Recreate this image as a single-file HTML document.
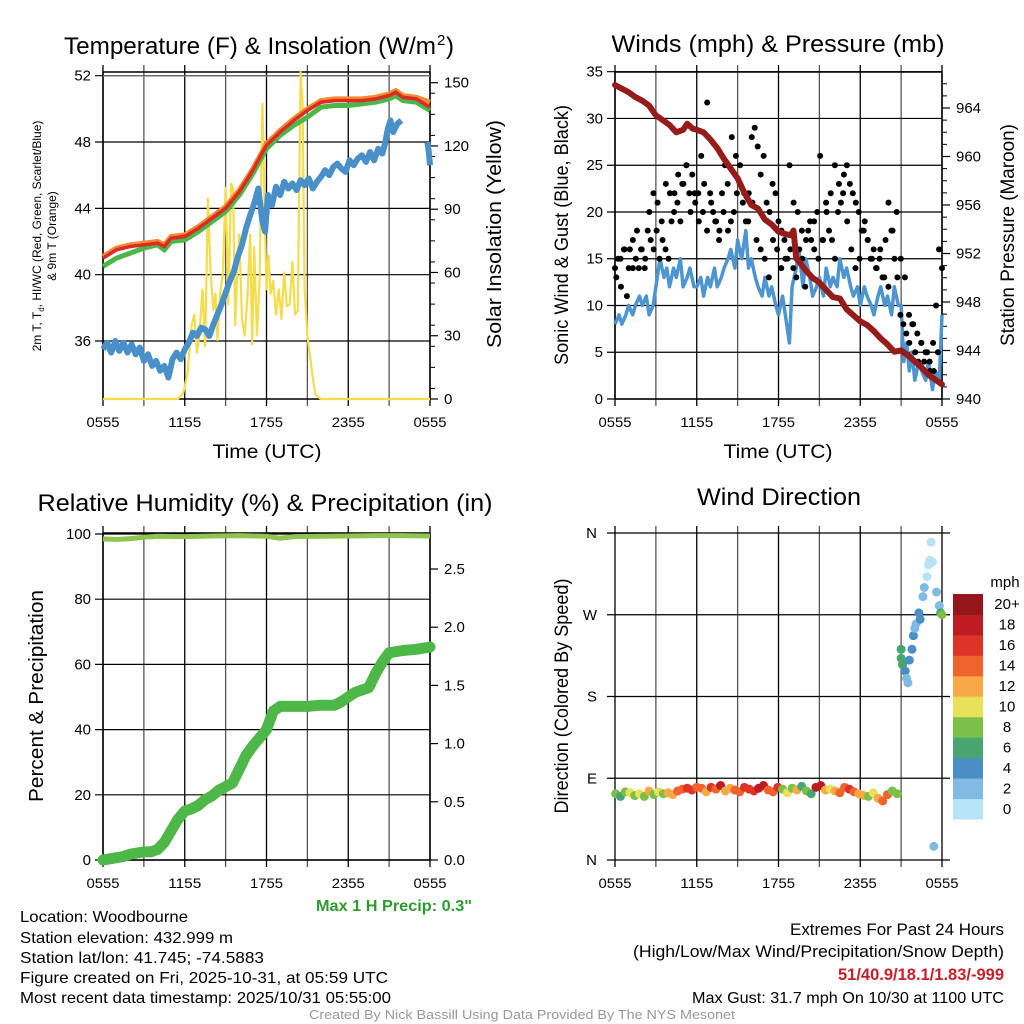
<!DOCTYPE html>
<html><head><meta charset="utf-8"><style>
html,body{margin:0;padding:0;background:#fff;}
svg{display:block;font-family:"Liberation Sans",sans-serif;}
</style></head><body>
<svg id="s" width="1024" height="1024" viewBox="0 0 1024 1024" xmlns="http://www.w3.org/2000/svg">
<g id="g"></g>
<g font-size="16" lengthAdjust="spacingAndGlyphs">
<text x="20" y="922" textLength="168" lengthAdjust="spacingAndGlyphs">Location: Woodbourne</text>
<text x="20" y="943" textLength="213" lengthAdjust="spacingAndGlyphs">Station elevation: 432.999 m</text>
<text x="20" y="963" textLength="244" lengthAdjust="spacingAndGlyphs">Station lat/lon: 41.745; -74.5883</text>
<text x="20" y="983" textLength="368" lengthAdjust="spacingAndGlyphs">Figure created on Fri, 2025-10-31, at 05:59 UTC</text>
<text x="20" y="1003" textLength="371" lengthAdjust="spacingAndGlyphs">Most recent data timestamp: 2025/10/31 05:55:00</text>
<text x="790" y="935" font-size="17" textLength="214" lengthAdjust="spacingAndGlyphs">Extremes For Past 24 Hours</text>
<text x="633" y="957" font-size="17" textLength="371" lengthAdjust="spacingAndGlyphs">(High/Low/Max Wind/Precipitation/Snow Depth)</text>
<text x="838" y="980" font-size="17" font-weight="bold" fill="#c8202a" textLength="166" lengthAdjust="spacingAndGlyphs">51/40.9/18.1/1.83/-999</text>
<text x="692" y="1003" textLength="312" lengthAdjust="spacingAndGlyphs">Max Gust: 31.7 mph On 10/30 at 1100 UTC</text>
<text x="309" y="1019" font-size="13" fill="#999" textLength="426" lengthAdjust="spacingAndGlyphs">Created By Nick Bassill Using Data Provided By The NYS Mesonet</text>
<text x="316" y="911" font-weight="bold" fill="#2e9b2e" textLength="156" lengthAdjust="spacingAndGlyphs">Max 1 H Precip: 0.3"</text>
</g>
</svg>
<script>
// ---- DATA ----
const xTickLabels = ["0555","1155","1755","2355","0555"];
// Temperature panel (time in hours since 0555)
const tempT = [0,1,2,3,4,4.5,5,6,7,8,9,10,11,12,13,14,15,16,17,18,19,20,21,21.5,22,23,24];
const tempRed = [41.0,41.5,41.7,41.8,41.9,41.7,42.2,42.3,42.8,43.4,44.0,45.0,46.3,47.8,48.6,49.3,49.9,50.4,50.5,50.5,50.5,50.6,50.8,51.0,50.7,50.6,50.1];
const tempGreen = [40.5,41.0,41.3,41.6,41.8,41.5,42.0,42.1,42.6,43.2,43.8,44.8,46.1,47.6,48.4,49.0,49.5,50.1,50.2,50.2,50.3,50.4,50.6,50.8,50.5,50.4,49.9];
const tempOrange = [41.1,41.6,41.8,41.9,42.0,41.8,42.3,42.4,42.9,43.5,44.1,45.1,46.4,47.9,48.7,49.4,50.0,50.5,50.6,50.6,50.6,50.7,50.9,51.1,50.8,50.7,50.4];
const dewT = [0,0.3,0.6,0.9,1.2,1.5,1.8,2.1,2.4,2.7,3,3.3,3.6,3.9,4.2,4.5,4.8,5.1,5.4,5.7,6,6.3,6.6,6.9,7.2,7.5,7.8,8.1,8.4,8.7,9,9.3,9.6,9.9,10.2,10.5,10.8,11.1,11.4,11.7,11.9,12.1,12.4,12.7,13,13.3,13.6,13.9,14.2,14.5,14.8,15.1,15.4,15.7,16,16.3,16.6,16.9,17.2,17.5,17.8,18.1,18.4,18.7,19,19.3,19.6,19.9,20.2,20.5,20.7,20.9,21.1,21.3,21.6,21.9];
const dewVal = [35.5,35.9,35.3,36.0,35.4,35.9,35.3,35.8,35.2,35.6,34.8,35.2,34.5,34.8,34.2,34.5,33.8,34.9,35.3,34.9,35.5,35.9,36.5,36.3,36.8,36.7,36.3,37.0,37.6,38.2,38.9,39.6,40.2,41.1,41.8,42.8,43.6,44.3,45.2,43.2,42.6,44.8,44.2,45.3,44.8,45.6,45.2,45.5,45.1,45.7,45.4,45.8,45.2,45.6,45.9,46.3,46.0,46.5,46.7,46.4,46.2,46.9,46.6,47.0,47.2,46.8,47.4,46.9,47.6,47.3,47.9,48.8,49.3,48.6,49.1,49.3];
const dew2T = [23.8,23.9,24];
const dew2Val = [48.0,47.5,46.6];
const solarT = [0,5.5,5.9,6.2,6.5,6.7,6.9,7.1,7.3,7.5,7.7,7.9,8.1,8.25,8.4,8.6,8.8,9.0,9.2,9.4,9.55,9.7,9.85,10.0,10.2,10.4,10.6,10.8,10.95,11.1,11.3,11.5,11.7,11.85,12.0,12.15,12.3,12.5,12.7,12.9,13.1,13.3,13.5,13.7,13.9,14.1,14.3,14.5,14.65,14.8,15.0,15.2,15.4,15.6,16.0,24];
const solarVal = [0,0,3,12,35,40,22,32,52,25,95,60,42,50,28,50,60,100,45,102,100,35,60,78,38,30,48,78,26,72,30,58,140,95,52,68,50,56,40,52,38,60,44,45,65,40,42,155,140,52,30,20,10,2,0,0];
// Winds panel
const windT = [0,0.3,0.5,0.8,1,1.3,1.5,1.8,2,2.3,2.5,2.8,3,3.3,3.6,3.8,4,4.3,4.5,4.8,5,5.3,5.5,5.8,6,6.3,6.5,6.8,7,7.3,7.5,7.8,8,8.3,8.5,8.8,9,9.3,9.6,9.8,10,10.3,10.5,10.8,11,11.3,11.5,11.8,12,12.3,12.6,12.8,13,13.3,13.5,13.8,14,14.3,14.5,14.8,15,15.3,15.5,15.8,16,16.3,16.5,16.8,17,17.3,17.5,17.8,18,18.3,18.5,18.8,19,19.3,19.5,19.8,20,20.3,20.5,20.8,21,21.2,21.4,21.6,21.8,22,22.3,22.5,22.8,23,23.3,23.5,23.8,24];
const windVal = [8,9,8,9,10,9,10,11,10,11,9,10,12,15,13,14,12,14,13,15,12,13,14,12,12,13,11,13,12,14,12,13,14,15,16,14,17,15,18,14,15,13,12,11,13,11,12,10,9,11,8,6,12,14,16,12,15,13,11,12,13,11,14,12,13,12,15,13,14,12,11,12,10,12,11,10,9,11,12,10,11,9,12,10,10,4,6,3,5,2,4,3,2,4,1,3,2,9];
const gustVal = [14,15,12,16,11,16,14,15,14,16,14,18,17,16,18,15,17,16,15,19,22,21,19,23,25,22,24,21,22,26,23,31.7,22,20,19,17,22,25,18,19,20,22,23,21,19,22,28,29,27,24,26,21,20,23,22,19,18,17,15,16,14,13,16,15,12,18,17,19,20,26,17,21,18,17,15,20,21,24,25,23,22,21,20,18,19,17,15,16,14,15,13,17,21,18,15,13,9,8,7,6,8,5,4,6,4,5,3,6,10,16,14];
const gust2Val = [13,15,16,14,17,18,16,15,20,22,21,19,23,22,20,24,23,25,20,22,19,20,18,21,19,18,20,23,28,26,25,22,19,21,17,16,15,13,17,16,14,15,25,21,20,18,17,19,16,15,17,20,22,25,23,22,19,16,14,15,18,17,15,14,16,13,12,18,20,15,13,9,8,7,6,5,4,3,5];
const presT = [0,0.5,1,1.5,2,2.5,3,3.5,4,4.5,5,5.3,5.7,6,6.5,7,7.5,8,8.5,9,9.5,10,10.5,11,11.5,12,12.5,12.9,13.1,13.3,13.6,14,14.5,15,15.5,16,16.5,17,17.5,18,18.5,19,19.5,20,20.5,21,21.5,22,22.5,23,23.5,24];
const presVal = [965.9,965.6,965.3,964.9,964.6,964.2,963.4,963.0,962.6,962.0,962.2,962.7,962.3,962.2,962.0,961.4,960.7,959.8,959.0,958.2,957.0,956.0,955.7,954.8,954.4,953.8,953.6,953.5,953.9,951.6,951.2,950.6,950.0,949.6,949.0,948.4,948.3,947.4,946.9,946.4,946.1,945.6,945.0,944.5,943.9,944.0,943.6,943.1,942.6,942.0,941.6,941.2];
// RH & precip panel
const rhT = [0,1,2,3,4,6,8,10,12,13,14,16,18,20,22,24];
const rhVal = [98.5,98.3,98.6,99.0,99.3,99.2,99.4,99.5,99.3,98.7,99.2,99.3,99.4,99.5,99.5,99.4];
const precipT = [0,1,1.5,2,2.5,3,3.5,4,4.5,5,5.5,6,6.5,7,7.5,8,8.5,9,9.5,10,10.5,11,11.5,12,12.5,13,14,15,16,17,17.5,18,18.5,19,19.5,20,20.5,21,22,23,24];
const precipVal = [0,0.02,0.03,0.05,0.06,0.07,0.07,0.09,0.15,0.25,0.35,0.42,0.44,0.47,0.52,0.55,0.6,0.63,0.66,0.78,0.9,0.98,1.05,1.12,1.28,1.32,1.32,1.32,1.33,1.33,1.36,1.4,1.44,1.46,1.48,1.6,1.7,1.78,1.8,1.81,1.83];
// Wind direction panel: band 0..20.7h (uniform times), then tail points
const bandVal = [
73,70,75,74,71,73,70,76,72,75,
73,74,72,76,78,79,77,80,79,75,
80,78,82,76,79,77,75,80,78,76,
79,82,77,75,80,78,74,79,77,81,
76,73,80,82,77,78,76,74,80,78,
75,73,71,70,74,68,65,72,76,73];
const bandSpd = [
8,7,9,10,8,10,9,12,9,11,
8,12,13,14,15,17,16,15,14,12,
16,14,18,13,12,14,15,16,17,17,
18,19,15,15,16,9,10,8,13,7,
8,6,18,19,12,11,13,15,14,17,
15,12,13,9,10,13,14,15,9,8];
const tailT =   [21.0,21.0,21.1,21.3,21.4,21.5,21.6,21.8,21.9,22.0,22.1,22.3,22.4,22.6,22.7,22.9,23.0,23.1,23.3,23.2,23.4,23.6,23.8,23.9,24.0];
const tailVal = [232, 222, 215, 208, 200, 195, 220, 232, 247, 255, 260, 272, 265, 290, 300, 312, 325, 330, 328, 350, 15,  295, 280, 272, 270];
const tailSpd = [6,   6,   7,   4,   3,   3,   4,   4,   4,   3,   3,   4,   4,   2,   2,   1,   1,   1,   0,   0,   3,   3,   2,   7,   8];

// ---- helpers ----
const NS = "http://www.w3.org/2000/svg";
const G = document.getElementById('g');
function mk(tag, attrs, parent){const e=document.createElementNS(NS,tag);for(const k in attrs)e.setAttribute(k,attrs[k]);(parent||G).appendChild(e);return e;}
function txt(x,y,s,size,anchor,extra){const e=mk('text',Object.assign({x:x,y:y,'font-size':size,'text-anchor':anchor||'middle'},extra||{}));e.textContent=s;return e;}
function linScale(d0,d1,r0,r1){return v=>r0+(v-d0)*(r1-r0)/(d1-d0);}
function pathFrom(ts,vs,xs,ys){let d='';for(let i=0;i<ts.length;i++){if(vs[i]==null)continue;d+=(d?'L':'M')+xs(ts[i]).toFixed(1)+','+ys(vs[i]).toFixed(1);}return d;}
function title(cx,y,s,w,size){return txt(cx,y,s,size||24,'middle',{textLength:w,lengthAdjust:'spacingAndGlyphs'});}

function frame(x0,x1,y0,y1,leftTicks,yl,rightTicks,yr,rightMinor){
  for(let h=0;h<=24;h+=3){const x=linScale(0,24,x0,x1)(h);
    const l=mk('line',{x1:x,x2:x,y1:y0-7,y2:y1+7,stroke:h%6==0?'#000':'#555','stroke-width':1.3});
    
    }
  xTickLabels.forEach((s,i)=>{const t=txt(x0+i*(x1-x0)/4,y1+28,s,14,'middle',{textLength:33,lengthAdjust:'spacingAndGlyphs'});
    
    });
  leftTicks.forEach(v=>{const y=yl(v);
    const l=mk('line',{x1:x0-8,x2:x1+(rightTicks?0:8),y1:y,y2:y,stroke:'#000','stroke-width':1.2});
    
    
    const t=txt(x0-12,y+5,String(v),15,'end');
    
    });
  if(rightTicks){rightTicks.forEach(v=>{const y=yr(v);
    mk('line',{x1:x1,x2:x1+8,y1:y,y2:y,stroke:'#000','stroke-width':1.2});
    const t=txt(x1+14,y+5,rightMinor&&rightMinor.fmt?rightMinor.fmt(v):String(v),15,'start');
    
    });}
  if(rightMinor){rightMinor.vals.forEach(v=>{const y=yr(v);mk('line',{x1:x1,x2:x1+5,y1:y,y2:y,stroke:'#000','stroke-width':1});});}
  const r=mk('rect',{x:x0,y:y0,width:x1-x0,height:y1-y0,fill:'none',stroke:'#000','stroke-width':1.5});
  
  
}

// ---- Panel 1: temperature ----
(function(){
  const x0=103,x1=430,y0=72,y1=399;
  const xs=linScale(0,24,x0,x1), yl=linScale(36,52,341,75.7), yr=linScale(0,150,399,82.7);
  const minor=[];for(let v=5;v<155;v+=10)minor.push(v);
  frame(x0,x1,y0,y1,[36,40,44,48,52],yl,[0,30,60,90,120,150],yr,{vals:minor});
  mk('line',{x1:x0,x2:x1,y1:y0+4,y2:y0+4,stroke:'#888','stroke-width':1.2});
  const pw=mk('path',{d:pathFrom(solarT,solarVal,xs,yr),fill:'none',stroke:'#f5dc4a','stroke-width':2.2,'stroke-linejoin':'round'});
  
  
  const pd=mk('path',{d:pathFrom(dewT,dewVal,xs,yl),fill:'none',stroke:'#4a90c8','stroke-width':6,'stroke-linejoin':'round'});
  
  
  const pd2=mk('path',{d:pathFrom(dew2T,dew2Val,xs,yl),fill:'none',stroke:'#4a90c8','stroke-width':6});
  
  
  const po=mk('path',{d:pathFrom(tempT,tempOrange,xs,yl),fill:'none',stroke:'#f58a33','stroke-width':5});
  
  
  const pg=mk('path',{d:pathFrom(tempT,tempGreen,xs,yl),fill:'none',stroke:'#4cb648','stroke-width':5});
  
  
  const pr=mk('path',{d:pathFrom(tempT,tempRed,xs,yl),fill:'none',stroke:'#dd2a22','stroke-width':3.5});
  
  
  const t=txt(64,54,'Temperature (F) & Insolation (W/m',24,'start',{textLength:372,lengthAdjust:'spacingAndGlyphs'});
  
  
  const sp=txt(437,45,'2',15,'start');
  
  
  const sp2=txt(446,54,')',24,'start');
  
  
  const xt=title(267,458,'Time (UTC)',109,19);
  
  
  const yt=txt(0,0,'2m T, T',12,'middle',{transform:'translate(41,236) rotate(-90)'});
  const s1=mk('tspan',{dy:3,'font-size':8},yt);s1.textContent='d';
  const s2=mk('tspan',{dy:-3},yt);s2.textContent=', HI/WC (Red, Green, Scarlet/Blue)';
  
  
  const yt2=txt(0,0,'& 9m T (Orange)',12,'middle',{transform:'translate(56,236) rotate(-90)'});
  
  
  const rt=txt(0,0,'Solar Insolation (Yellow)',20,'middle',{transform:'translate(501,234) rotate(-90)',textLength:228,lengthAdjust:'spacingAndGlyphs'});
  
  
})();

// ---- Panel 2: winds ----
(function(){
  const x0=615,x1=942,y0=72,y1=399;
  const xs=linScale(0,24,x0,x1), yl=linScale(0,35,399,71.7), yr=linScale(940,964,399,108);
  const minor=[];for(let v=941;v<967;v+=1)if(v%4)minor.push(v);
  frame(x0,x1,y0,y1,[0,5,10,15,20,25,30,35],yl,[940,944,948,952,956,960,964],yr,{vals:minor});
  const pw=mk('path',{d:pathFrom(windT,windVal,xs,yl),fill:'none',stroke:'#4d95d0','stroke-width':3.5,'stroke-linejoin':'round'});
  
  
  gustVal.forEach((v,i)=>{const t=i*24/(gustVal.length-1);
    const c=mk('circle',{cx:xs(t),cy:yl(v),r:3,fill:'#000'});
    
    });
  gust2Val.forEach((v,i)=>{const t=0.1+i*23.6/(gust2Val.length-1);
    const c=mk('circle',{cx:xs(t),cy:yl(v),r:3,fill:'#000'});
    
    });
  const pp=mk('path',{d:pathFrom(presT,presVal,xs,yr),fill:'none',stroke:'#961b1b','stroke-width':6,'stroke-linejoin':'round','stroke-linecap':'round'});
  
  
  const t=title(778,52,'Winds (mph) & Pressure (mb)',333);
  
  
  const xt=title(778,458,'Time (UTC)',109,19);
  
  
  const yt=txt(0,0,'Sonic Wind & Gust (Blue, Black)',19,'middle',{transform:'translate(568,235) rotate(-90)',textLength:260,lengthAdjust:'spacingAndGlyphs'});
  
  
  const rt=txt(0,0,'Station Pressure (Maroon)',19,'middle',{transform:'translate(1014,235) rotate(-90)',textLength:222,lengthAdjust:'spacingAndGlyphs'});
  
  
})();

// ---- Panel 3: RH & precip ----
(function(){
  const x0=103,x1=430,y0=533,y1=860;
  const xs=linScale(0,24,x0,x1), yl=linScale(0,100,860,534), yr=linScale(0,2.5,860,569);
  frame(x0,x1,y0,y1,[0,20,40,60,80,100],yl,[0,0.5,1,1.5,2,2.5],yr,{vals:[],fmt:v=>v.toFixed(1)});
  const pr=mk('path',{d:pathFrom(rhT,rhVal,xs,yl),fill:'none',stroke:'#8fc450','stroke-width':5});
  
  
  const pp=mk('path',{d:pathFrom(precipT,precipVal,xs,yr),fill:'none',stroke:'#4db848','stroke-width':11,'stroke-linejoin':'round','stroke-linecap':'round'});
  
  
  const t=title(265,511,'Relative Humidity (%) & Precipitation (in)',455);
  
  
  const yt=txt(0,0,'Percent & Precipitation',20,'middle',{transform:'translate(43,696) rotate(-90)',textLength:212,lengthAdjust:'spacingAndGlyphs'});
  
  
})();

// ---- Panel 4: wind direction ----
const speedColors = ['#b7e3f7','#7fbbe3','#4a8fc4','#48a56f','#7cc04a','#e7e25a','#f6a945','#f0632c','#dd3427','#bd1c22','#94161b'];
const speedLabels = ['0','2','4','6','8','10','12','14','16','18','20+'];
(function(){
  const x0=615,x1=942,y0=533,y1=860;
  const xs=linScale(0,24,x0,x1), yd=linScale(0,360,860,533);
  for(let h=0;h<=24;h+=3){const x=xs(h);mk('line',{x1:x,x2:x,y1:y0-7,y2:y1+7,stroke:h%6==0?'#000':'#555','stroke-width':1.3});}
  xTickLabels.forEach((s,i)=>{const t=txt(x0+i*(x1-x0)/4,y1+28,s,14,'middle',{textLength:33,lengthAdjust:'spacingAndGlyphs'});
    
    });
  [['N',0],['E',90],['S',180],['W',270],['N',360]].forEach(([s,v])=>{const y=yd(v);
    mk('line',{x1:x0-8,x2:x1+8,y1:y,y2:y,stroke:'#000','stroke-width':1.2});
    const t=txt(x0-18,y+5,s,15,'end');
    
    });
  function dot(t,v,spd){const ci=Math.min(10,Math.floor(spd/2));
    const c=mk('circle',{cx:xs(t),cy:yd(v),r:4.5,fill:speedColors[ci]});
    
    }
  bandVal.forEach((v,i)=>dot(0.05+i*20.65/(bandVal.length-1),v,bandSpd[i]));
  tailVal.forEach((v,i)=>dot(tailT[i],v,tailSpd[i]));
  const t=title(779,505,'Wind Direction',164);
  
  
  const yt=txt(0,0,'Direction (Colored By Speed)',19,'middle',{transform:'translate(568,696) rotate(-90)',textLength:235,lengthAdjust:'spacingAndGlyphs'});
  
  
  const mt=txt(1005,587,'mph',15);
  
  
  const bh=(819-594)/11;
  for(let i=0;i<11;i++){const y=594+(10-i)*bh;
    const r=mk('rect',{x:953,y:y,width:30,height:bh+0.5,fill:speedColors[i]});
    
    
    const l=txt(1007,y+bh/2+5,speedLabels[i],15);
    
    }
})();
</script>
</body></html>
